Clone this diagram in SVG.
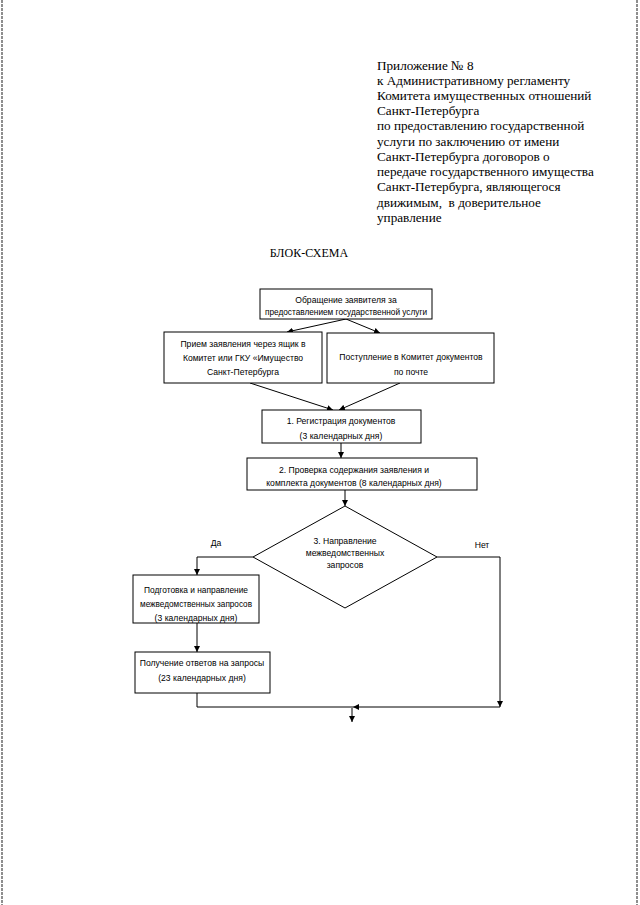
<svg xmlns="http://www.w3.org/2000/svg" width="640" height="905" viewBox="0 0 640 905">
<defs>
<marker id="ah" viewBox="0 0 10 10" refX="10" refY="5" markerWidth="6" markerHeight="6" orient="auto" markerUnits="userSpaceOnUse">
<path d="M0,0 L10,5 L0,10 z" fill="#000"/>
</marker>
<style>
.hdr{font-family:"Liberation Serif","Times New Roman",serif;font-size:13.2px;fill:#000}
.ttl{font-family:"Liberation Serif","Times New Roman",serif;font-size:12px;fill:#000;text-anchor:middle}
.t{font-family:"Liberation Sans",Arial,sans-serif;font-size:8.6px;fill:#000;text-anchor:middle}
.box{fill:#fff;stroke:#000;stroke-width:1}
.ln{fill:none;stroke:#000;stroke-width:1}
.edge{stroke:#444;stroke-width:1.2;stroke-dasharray:3 1}
</style>
</defs>
<rect width="640" height="905" fill="#fff"/>
<line class="edge" x1="2" y1="0" x2="2" y2="905"/>
<line class="edge" x1="637" y1="0" x2="637" y2="905"/>

<g id="header">
<text class="hdr" x="377" y="70">Приложение № 8</text>
<text class="hdr" x="377" y="85">к Административному регламенту</text>
<text class="hdr" x="377" y="100">Комитета имущественных отношений</text>
<text class="hdr" x="377" y="115">Санкт-Петербурга</text>
<text class="hdr" x="377" y="130">по предоставлению государственной</text>
<text class="hdr" x="377" y="146">услуги по заключению от имени</text>
<text class="hdr" x="377" y="161">Санкт-Петербурга договоров о</text>
<text class="hdr" x="377" y="176">передаче государственного имущества</text>
<text class="hdr" x="377" y="191">Санкт-Петербурга, являющегося</text>
<text class="hdr" x="377" y="207" xml:space="preserve">движимым,  в доверительное</text>
<text class="hdr" x="377" y="222">управление</text>
</g>
<g id="title">
<text class="ttl" x="309" y="257">БЛОК-СХЕМА</text>
</g>

<g id="connectors">
<path class="ln" d="M346,319 L287,332" marker-end="url(#ah)"/>
<path class="ln" d="M346,319 L380,333" marker-end="url(#ah)"/>
<path class="ln" d="M250,383 L333,410" marker-end="url(#ah)"/>
<path class="ln" d="M400,383 L339,410" marker-end="url(#ah)"/>
<path class="ln" d="M341,443 L341,458" marker-end="url(#ah)"/>
<path class="ln" d="M345,490 L345,506" marker-end="url(#ah)"/>
<path class="ln" d="M253,557 L197,557 L197,575" marker-end="url(#ah)"/>
<path class="ln" d="M197,623 L197,652" marker-end="url(#ah)"/>
<path class="ln" d="M197,693 L197,707 L353,707"/>
<path class="ln" d="M437,557 L500,557 L500,707" marker-end="url(#ah)"/>
<path class="ln" d="M500,707 L353,707" marker-end="url(#ah)"/>
<path class="ln" d="M352,708 L352,722" marker-end="url(#ah)"/>
<text class="t" x="216" y="546">Да</text>
<text class="t" x="482" y="548">Нет</text>
</g>

<g id="n1">
<rect class="box" x="260" y="289" width="172" height="30"/>
<text class="t" x="346" y="303">Обращение заявителя за</text>
<text class="t" x="346" y="315" textLength="162" lengthAdjust="spacingAndGlyphs">предоставлением государственной услуги</text>
</g>
<g id="n2">
<rect class="box" x="164" y="332" width="158" height="51"/>
<text class="t" x="243" y="347">Прием заявления через ящик в</text>
<text class="t" x="243" y="361">Комитет или ГКУ «Имущество</text>
<text class="t" x="243" y="375">Санкт-Петербурга</text>
</g>
<g id="n3">
<rect class="box" x="327" y="333" width="167" height="50"/>
<text class="t" x="411" y="360">Поступление в Комитет документов</text>
<text class="t" x="411" y="375">по почте</text>
</g>
<g id="n4">
<rect class="box" x="262" y="410" width="159" height="33"/>
<text class="t" x="341" y="424">1. Регистрация документов</text>
<text class="t" x="341" y="439">(3 календарных дня)</text>
</g>
<g id="n5">
<rect class="box" x="247" y="458" width="230" height="32"/>
<text class="t" x="354" y="473">2. Проверка содержания заявления и</text>
<text class="t" x="354" y="486">комплекта документов (8 календарных дня)</text>
</g>
<g id="n6">
<polygon class="box" points="345,506 437,557 345,608 253,557"/>
<text class="t" x="345" y="544">3. Направление</text>
<text class="t" x="345" y="556">межведомственных</text>
<text class="t" x="345" y="568">запросов</text>
</g>
<g id="n7">
<rect class="box" x="133" y="575" width="126" height="48"/>
<text class="t" x="196" y="593" textLength="104" lengthAdjust="spacingAndGlyphs">Подготовка и направление</text>
<text class="t" x="196" y="607" textLength="112" lengthAdjust="spacingAndGlyphs">межведомственных запросов</text>
<text class="t" x="196" y="621">(3 календарных дня)</text>
</g>
<g id="n8">
<rect class="box" x="135" y="652" width="135" height="41"/>
<text class="t" x="202" y="666">Получение ответов на запросы</text>
<text class="t" x="202" y="681">(23 календарных дня)</text>
</g>
</svg>
